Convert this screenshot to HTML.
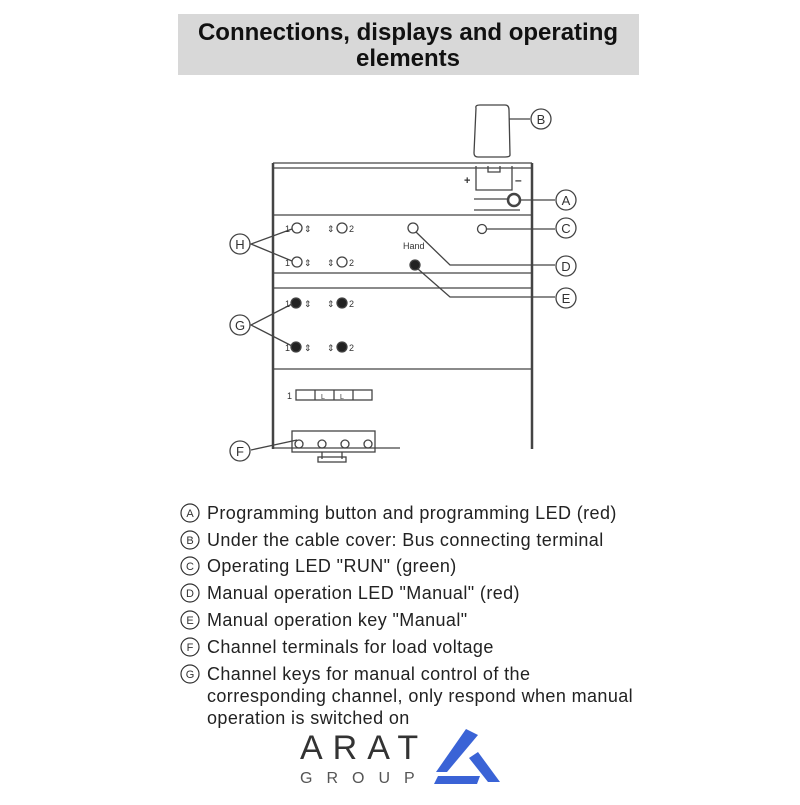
<!DOCTYPE html>
<html><head><style>
body{margin:0;background:#fff;width:800px;height:800px;overflow:hidden}
</style></head><body>
<svg width="800" height="800" xmlns="http://www.w3.org/2000/svg" font-family="Liberation Sans, sans-serif">
<rect x="178" y="14" width="461" height="61" fill="#d8d8d8"/>
<text x="408" y="40" text-anchor="middle" font-size="24" font-weight="bold" fill="#111">Connections, displays and operating</text>
<text x="408" y="66" text-anchor="middle" font-size="24" font-weight="bold" fill="#111">elements</text>
<g stroke="#444" fill="none" stroke-width="1.3">
<line x1="273" y1="163" x2="273" y2="449" stroke-width="2.5"/>
<line x1="532" y1="163" x2="532" y2="449" stroke-width="2.5"/>
<line x1="273" y1="163" x2="532" y2="163"/>
<line x1="273" y1="168" x2="532" y2="168"/>
<line x1="273" y1="215" x2="532" y2="215"/>
<line x1="273" y1="273" x2="532" y2="273"/>
<line x1="273" y1="288" x2="532" y2="288"/>
<line x1="273" y1="369" x2="532" y2="369"/>
<line x1="273" y1="448" x2="400" y2="448"/>
<path d="M476 108 Q475 105 480 105 L505 105 Q509 105 509 110 L510 155 Q510 157 505 157 L478 157 Q474 157 474 153 Z"/>
<path d="M476 166 L476 190 L512 190 L512 166 M488 166 L488 172 L500 172 L500 166"/>
<line x1="509" y1="119" x2="530" y2="119"/>
<line x1="474" y1="199" x2="507" y2="199"/><line x1="474" y1="210" x2="520" y2="210"/>
<circle cx="514" cy="200" r="6" stroke-width="2.5"/>
<line x1="521" y1="200" x2="555" y2="200"/>
<circle cx="482" cy="229" r="4.5"/><line x1="487" y1="229" x2="555" y2="229"/>
<circle cx="413" cy="228" r="5"/><polyline points="416,232 450,265 555,265"/>
<circle cx="415" cy="265" r="5" fill="#222"/><polyline points="418,269 450,297 555,297"/>
<circle cx="297" cy="228" r="5"/><circle cx="297" cy="262" r="5"/>
<circle cx="342" cy="228" r="5"/><circle cx="342" cy="262" r="5"/>
<polyline points="292,229 251,244 292,261"/>
<circle cx="296" cy="303" r="5" fill="#222"/><circle cx="296" cy="347" r="5" fill="#222"/>
<circle cx="342" cy="303" r="5" fill="#222"/><circle cx="342" cy="347" r="5" fill="#222"/>
<polyline points="292,304 251,325 292,346"/>
<rect x="296" y="390" width="76" height="10"/>
<line x1="315" y1="390" x2="315" y2="400"/><line x1="334" y1="390" x2="334" y2="400"/><line x1="353" y1="390" x2="353" y2="400"/>
<rect x="292" y="431" width="83" height="21"/>
<line x1="322" y1="452" x2="322" y2="459"/><line x1="342" y1="452" x2="342" y2="459"/>
<rect x="318" y="457" width="28" height="5"/>
<line x1="251" y1="450" x2="297" y2="440"/>
<circle cx="299" cy="444" r="4"/><circle cx="322" cy="444" r="4"/><circle cx="345" cy="444" r="4"/><circle cx="368" cy="444" r="4"/>
<circle cx="541" cy="119" r="10"/><circle cx="566" cy="200" r="10"/><circle cx="566" cy="228" r="10"/>
<circle cx="566" cy="266" r="10"/><circle cx="566" cy="298" r="10"/><circle cx="240" cy="244" r="10"/>
<circle cx="240" cy="325" r="10"/><circle cx="240" cy="451" r="10"/>
</g>
<g font-size="13" fill="#333" text-anchor="middle">
<text x="541" y="124">B</text><text x="566" y="205">A</text><text x="566" y="233">C</text>
<text x="566" y="271">D</text><text x="566" y="303">E</text><text x="240" y="249">H</text>
<text x="240" y="330">G</text><text x="240" y="456">F</text>
</g>
<g font-size="9" fill="#333">
<text x="285" y="232">1</text><text x="304" y="232">⇕</text><text x="327" y="232">⇕</text><text x="349" y="232">2</text>
<text x="285" y="266">1</text><text x="304" y="266">⇕</text><text x="327" y="266">⇕</text><text x="349" y="266">2</text>
<text x="285" y="307">1</text><text x="304" y="307">⇕</text><text x="327" y="307">⇕</text><text x="349" y="307">2</text>
<text x="285" y="351">1</text><text x="304" y="351">⇕</text><text x="327" y="351">⇕</text><text x="349" y="351">2</text>
<text x="287" y="399">1</text><text x="321" y="399" font-size="7">L</text><text x="340" y="399" font-size="7">L</text>
<text x="403" y="249">Hand</text>
<text x="464" y="184" font-size="11" font-weight="bold">+</text><text x="515" y="184" font-size="12" font-weight="bold">–</text>
</g>
<g font-size="18" fill="#222" letter-spacing="0.4">
<text x="207" y="519">Programming button and programming LED (red)</text>
<text x="207" y="546">Under the cable cover: Bus connecting terminal</text>
<text x="207" y="572">Operating LED "RUN" (green)</text>
<text x="207" y="599">Manual operation LED "Manual" (red)</text>
<text x="207" y="626">Manual operation key "Manual"</text>
<text x="207" y="653">Channel terminals for load voltage</text>
<text x="207" y="680">Channel keys for manual control of the</text>
<text x="207" y="702">corresponding channel, only respond when manual</text>
<text x="207" y="724">operation is switched on</text>
</g>
<g stroke="#333" fill="none" stroke-width="1.2">
<circle cx="190" cy="513" r="9"/><circle cx="190" cy="540" r="9"/><circle cx="190" cy="566" r="9"/>
<circle cx="190" cy="593" r="9"/><circle cx="190" cy="620" r="9"/><circle cx="190" cy="647" r="9"/><circle cx="190" cy="674" r="9"/>
</g>
<g font-size="11" fill="#333" text-anchor="middle">
<text x="190" y="517">A</text><text x="190" y="544">B</text><text x="190" y="570">C</text><text x="190" y="597">D</text>
<text x="190" y="624">E</text><text x="190" y="651">F</text><text x="190" y="678">G</text>
</g>
<text x="300" y="759" font-size="34" fill="#333" letter-spacing="10">ARAT</text>
<text x="300" y="783" font-size="16" fill="#555" letter-spacing="14">GROUP</text>
<g fill="#3a63d6">
<polygon points="466,729 478,735 447,772 436,772"/>
<polygon points="469,758 478,752 500,782 488,782"/>
<polygon points="438,776 480,776 477,784 434,784"/>
</g>
</svg>
</body></html>
